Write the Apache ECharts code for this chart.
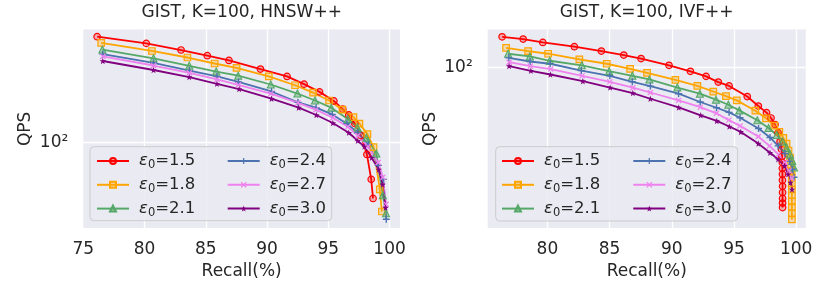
<!DOCTYPE html>
<html><head><meta charset="utf-8">
<script src="https://cdn.jsdelivr.net/npm/echarts@6/dist/echarts.min.js"></script>
<style>html,body{margin:0;padding:0;background:#fff}#c{width:830px;height:285px}</style>
</head><body><div id="c"></div><script>
// ---- data: [Recall(%), QPS] ----
const hnsw_eps15 = [[76.13,388],[80.14,356],[82.98,327],[85.12,304],[86.89,286],[89.46,256],[91.63,233],[93.02,211],[94.28,191],[95.45,170],[96.18,153],[96.67,142],[97.17,127],[97.66,109],[98.15,85.5],[98.50,62.1],[98.65,48.6]];
const hnsw_eps18 = [[76.46,358],[80.60,323],[83.50,297],[85.72,275],[87.51,260],[90.14,233],[92.29,208],[93.76,189],[95.06,171],[96.15,152],[97.05,138],[97.54,127],[98.19,111],[98.69,94],[99.20,54.6],[99.37,41.1]];
const hnsw_eps21 = [[76.56,329],[80.73,294],[83.65,267],[85.85,248],[87.64,235],[90.30,210],[92.48,187],[93.91,171],[95.24,156],[96.59,135],[97.37,121],[98.11,106],[98.92,86.5],[99.45,50.6],[99.71,40.2]];
const hnsw_eps24 = [[76.59,310],[80.73,277],[83.66,251],[85.91,233],[87.67,217],[90.36,192],[92.52,167],[94.00,156],[95.32,143],[96.52,127],[97.40,113],[98.27,97],[99.08,74.3],[99.49,62.1],[99.73,37.2]];
const hnsw_eps27 = [[76.59,301],[80.73,268],[83.66,244],[85.91,224],[87.66,209],[90.30,187],[92.52,166],[93.98,152],[95.37,137],[96.59,122],[97.41,109],[98.23,94.6],[99.07,77.1],[99.45,63.7],[99.71,45.1]];
const hnsw_eps30 = [[76.59,284],[80.73,253],[83.65,231],[85.91,212],[87.72,198],[90.36,175],[92.58,156],[94.02,142],[95.37,128],[96.67,113],[97.40,102],[97.94,94.6],[98.54,81.9],[99.11,70.5],[99.43,58.2],[99.67,43.2]];

const ivf_eps15 = [[76.36,147],[78.05,143],[79.63,137],[82.17,130],[84.34,123],[86.14,117],[87.53,112],[89.78,103],[91.50,95.5],[92.76,89.7],[93.74,83.5],[94.61,79.6],[96.07,69.7],[96.96,61.9],[97.62,57.0],[97.98,53.3],[98.30,49.1],[98.55,44.4],[98.71,39.7],[98.83,36.0],[98.87,33.0],[98.89,30.6],[98.89,28.4],[98.90,26.4],[98.90,24.5],[98.91,22.7],[98.91,21.0],[98.91,19.5],[98.91,18.4],[98.91,17.4]];
const ivf_eps18 = [[76.68,128],[78.45,123],[80.06,119],[82.57,111],[84.77,105],[86.65,98.6],[88.01,93.7],[90.29,85.9],[92.06,79.7],[93.34,74.2],[94.36,70.0],[95.23,66.4],[96.72,58.4],[97.58,53.1],[98.25,48.5],[98.65,44.8],[98.97,41.6],[99.23,38.7],[99.39,35.5],[99.51,32.5],[99.59,29.8],[99.63,27.3],[99.65,25.4],[99.65,23.5],[99.66,21.8],[99.66,20.3],[99.66,18.8],[99.66,17.5],[99.66,16.2],[99.66,15.0]];
const ivf_eps21 = [[76.84,119],[78.59,115],[80.19,109],[82.77,103],[84.96,95.7],[86.83,90.3],[88.20,86.3],[90.45,78.0],[92.26,72.2],[93.55,67.0],[94.55,62.9],[95.43,58.6],[96.88,51.8],[97.78,47.0],[98.44,43.1],[98.91,39.7],[99.24,36.7],[99.51,33.8],[99.69,31.2],[99.83,28.7]];
const ivf_eps24 = [[76.90,113],[78.61,108],[80.22,105],[82.73,96.4],[85.02,90.3],[86.83,83.8],[88.28,79.4],[90.55,72.2],[92.29,65.1],[93.60,60.6],[94.61,57.2],[95.49,53.5],[96.98,46.7],[97.90,41.8],[98.55,37.6],[99.11,34.2],[99.47,31.0],[99.69,28.1],[99.83,25.4]];
const ivf_eps27 = [[76.92,107],[78.63,102],[80.27,98.2],[82.79,90.3],[85.02,83.8],[86.87,77.8],[88.28,73.3],[90.55,66.4],[92.30,61.0],[93.59,56.5],[94.59,51.9],[95.49,48.3],[96.96,42.3],[97.86,37.6],[98.57,33.8],[99.11,30.6],[99.43,27.5],[99.65,25.1]];
const ivf_eps30 = [[76.92,102],[78.67,96.1],[80.24,91.8],[82.85,84.5],[85.04,78.0],[86.87,72.8],[88.28,67.8],[90.56,60.8],[92.33,55.1],[93.62,51.4],[94.63,47.9],[95.55,44.8],[96.96,38.7],[97.90,34.5],[98.55,31.8],[99.07,29.3],[99.35,26.4],[99.55,23.8],[99.67,21.8]];

const seriesNames = ['ε0=1.5','ε0=1.8','ε0=2.1','ε0=2.4','ε0=2.7','ε0=3.0'];
const titles = ['GIST, K=100, HNSW++','GIST, K=100, IVF++'];
const xName = 'Recall(%)';
const yName = 'QPS';

// ---- styling ----
const FONT = 'DejaVu Sans';
const TXT = '#262626';
const colors = ['#ff0000','#ffa500','#55a868','#4c72b0','#ee82ee','#800080'];
const fills = ['rgba(255,0,0,0.28)','rgba(255,165,0,0.28)','rgba(85,168,104,0.45)','#4c72b0','#ee82ee','#800080'];
const PLUS = 'path://M4,0H6V4H10V6H6V10H4V6H0V4H4Z';
const XSYM = 'path://M1.5,0L5,3.5L8.5,0L10,1.5L6.5,5L10,8.5L8.5,10L5,6.5L1.5,10L0,8.5L3.5,5L0,1.5Z';
const STAR = 'path://M5,0L6.18,3.38L9.76,3.45L6.9,5.62L7.94,9.05L5,7L2.06,9.05L3.1,5.62L0.24,3.45L3.82,3.38Z';
const symbols = ['circle','rect','triangle',PLUS,XSYM,STAR];
const symSizes = [6.5,6.5,7,7,6,6.5];
const borders = [1.2,1.2,1.1,0,0,0];

const grids = [
  {left:83.3, top:29.5, width:316.7, height:199.5},
  {left:487.7, top:29.5, width:318, height:199.5}
];
const xRanges = [[75.0,100.85],[75.2,100.77]];
const yRanges = [[33.2,425.6],[13.46,161.1]];

function mkSeries(sets, gi){
  return sets.map((d,i)=>({
    type:'line', name: seriesNames[i], xAxisIndex: gi, yAxisIndex: gi, data: d,
    symbol: symbols[i], symbolSize: symSizes[i], showSymbol: true,
    lineStyle:{color: colors[i], width:1.8},
    itemStyle:{color: fills[i], borderColor: colors[i], borderWidth: borders[i]},
    emphasis:{disabled:true}, z: 2, animation:false
  }));
}

const series = [].concat(
  mkSeries([hnsw_eps15,hnsw_eps18,hnsw_eps21,hnsw_eps24,hnsw_eps27,hnsw_eps30],0),
  mkSeries([ivf_eps15,ivf_eps18,ivf_eps21,ivf_eps24,ivf_eps27,ivf_eps30],1)
);

const xAxes = [0,1].map(i=>({
  type:'value', gridIndex:i, min:xRanges[i][0], max:xRanges[i][1], minInterval:5, maxInterval:5, splitNumber:5,
  axisLine:{show:false}, axisTick:{show:false},
  axisLabel:{show:true, color:TXT, fontFamily:FONT, fontSize:17, margin:13, showMinLabel: i===0, showMaxLabel:false},
  splitLine:{show:true, lineStyle:{color:'#ffffff', width:1.3}, showMinLine:false, showMaxLine:false},
  name:xName, nameLocation:'middle', nameGap:33, nameTextStyle:{color:TXT, fontFamily:FONT, fontSize:17}
}));
const yAxes = [0,1].map(i=>({
  type:'log', gridIndex:i, min:yRanges[i][0], max:yRanges[i][1], logBase:10,
  axisLine:{show:false}, axisTick:{show:false},
  axisLabel:{show:true, color:TXT, fontFamily:FONT, fontSize:17, margin:15, showMinLabel:false, showMaxLabel:false,
    formatter:(v)=> Math.abs(v-100)<0.5 ? '10²' : ''},
  splitLine:{show:true, lineStyle:{color:'#ffffff', width:1.3}, showMinLine:false, showMaxLine:false},
  name:yName, nameLocation:'middle', nameGap:49, nameTextStyle:{color:TXT, fontFamily:FONT, fontSize:17}
}));

const legendText = {
  color:TXT, fontFamily:FONT, fontSize:16.5,
  rich:{
    e:{fontStyle:'italic', fontSize:16.5, fontFamily:FONT, color:TXT, padding:[0,0,0,5]},
    s:{fontSize:11.5, fontFamily:FONT, color:TXT, padding:[8,0,0,0]},
    n:{fontSize:16.5, fontFamily:FONT, color:TXT}
  }
};
function mkLegend(names, left, top){
  return {data:names, left:left, top:top, orient:'vertical', itemWidth:32, itemHeight:7.5, itemGap:5.3,
    padding:0, z:6, selectedMode:false, textStyle:legendText,
    formatter:(n)=>'{e|ε}{s|0}{n|'+n.slice(2)+'}'};
}
const legends = [
  mkLegend(seriesNames.slice(0,3), 96, 152.5),
  mkLegend(seriesNames.slice(3), 226.7, 152.5),
  mkLegend(seriesNames.slice(0,3), 501, 152.5),
  mkLegend(seriesNames.slice(3), 632.3, 152.5)
];

const option = {
  animation:false,
  backgroundColor:'#ffffff',
  title: [
    {text:titles[0], left:241.7, top:4.5, textAlign:'center', padding:0, textStyle:{color:TXT, fontFamily:FONT, fontSize:17, fontWeight:'normal'}},
    {text:titles[1], left:646.7, top:4.5, textAlign:'center', padding:0, textStyle:{color:TXT, fontFamily:FONT, fontSize:17, fontWeight:'normal'}}
  ],
  grid: grids.map(g=>Object.assign({show:true, backgroundColor:'#eaeaf2', borderWidth:0}, g)),
  xAxis: xAxes, yAxis: yAxes,
  legend: legends,
  graphic: [
    {type:'rect', z:5, shape:{x:90, y:146.7, width:241.7, height:74, r:4}, style:{fill:'rgba(234,234,242,0.85)', stroke:'#cccccc', lineWidth:1}},
    {type:'rect', z:5, shape:{x:495.7, y:146.7, width:242, height:74.3, r:4}, style:{fill:'rgba(234,234,242,0.85)', stroke:'#cccccc', lineWidth:1}}
  ],
  series: series
};
const chart = echarts.init(document.getElementById('c'), null, {renderer:'canvas'});
chart.setOption(option);
</script></body></html>
